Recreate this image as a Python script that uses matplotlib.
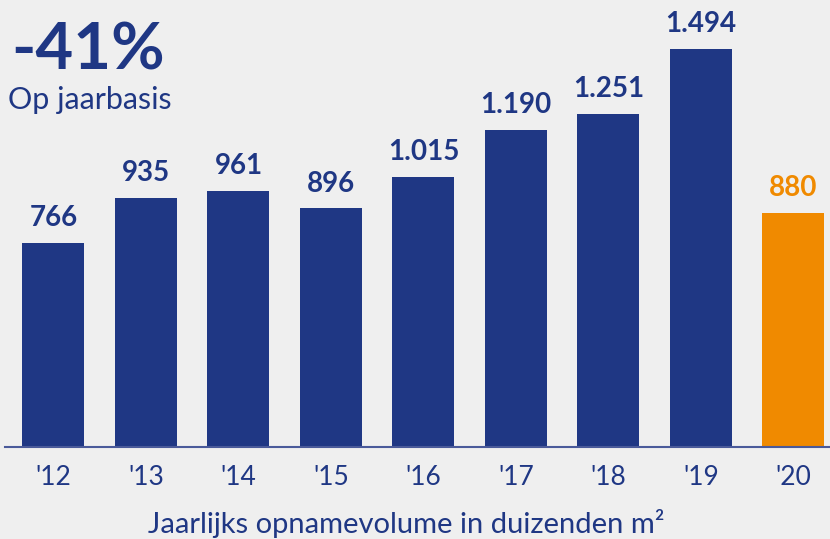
import matplotlib.pyplot as plt

years = ["'12", "'13", "'14", "'15", "'16", "'17", "'18", "'19", "'20"]
volumes = [766, 935, 961, 896, 1015, 1190, 1251, 1494, 880]
labels = ["766", "935", "961", "896", "1.015", "1.190", "1.251", "1.494", "880"]

navy = "#1f3784"
orange = "#f08a00"
bg = "#efefef"
colors = [navy] * 8 + [orange]

fig = plt.figure(figsize=(8.3, 5.39), dpi=100, facecolor=bg)
ax = fig.add_axes([0, (539 - 447) / 539, 1, 447 / 539])
ax.set_facecolor(bg)

x = list(range(len(years)))
ax.bar(x, volumes, width=0.67, color=colors, zorder=2)

for i, (v, lab) in enumerate(zip(volumes, labels)):
    ax.annotate(lab, (i, v), xytext=(0, 12), textcoords="offset points",
                ha="center", va="baseline", fontsize=20, fontweight="bold",
                color=colors[i], family="Lato")

ax.set_xlim(-0.578, 8.395)
ax.set_ylim(0, 1678)

for s in ["top", "right", "left"]:
    ax.spines[s].set_visible(False)
ax.spines["bottom"].set_color("#4a5a9a")
ax.spines["bottom"].set_linewidth(1.5)
ax.spines["bottom"].set_bounds(-0.52, 8.395)

ax.set_yticks([])
ax.set_xticks(x)
ax.set_xticklabels(years, fontsize=19, color=navy, family="Lato")
ax.tick_params(axis="x", length=0, pad=13)

fig.text(406 / 830, 1 - 533 / 539, "Jaarlijks opnamevolume in duizenden m²",
         ha="center", va="baseline", fontsize=21, color=navy, family="Lato")

fig.text(11 / 830, 1 - 70 / 539, "-41%", ha="left", va="baseline",
         fontsize=47, fontweight="bold", color=navy, family="Lato")
fig.text(8 / 830, 1 - 109 / 539, "Op jaarbasis", ha="left", va="baseline",
         fontsize=22, color=navy, family="Lato")

fig.savefig("out.png", dpi=100, facecolor=bg)
